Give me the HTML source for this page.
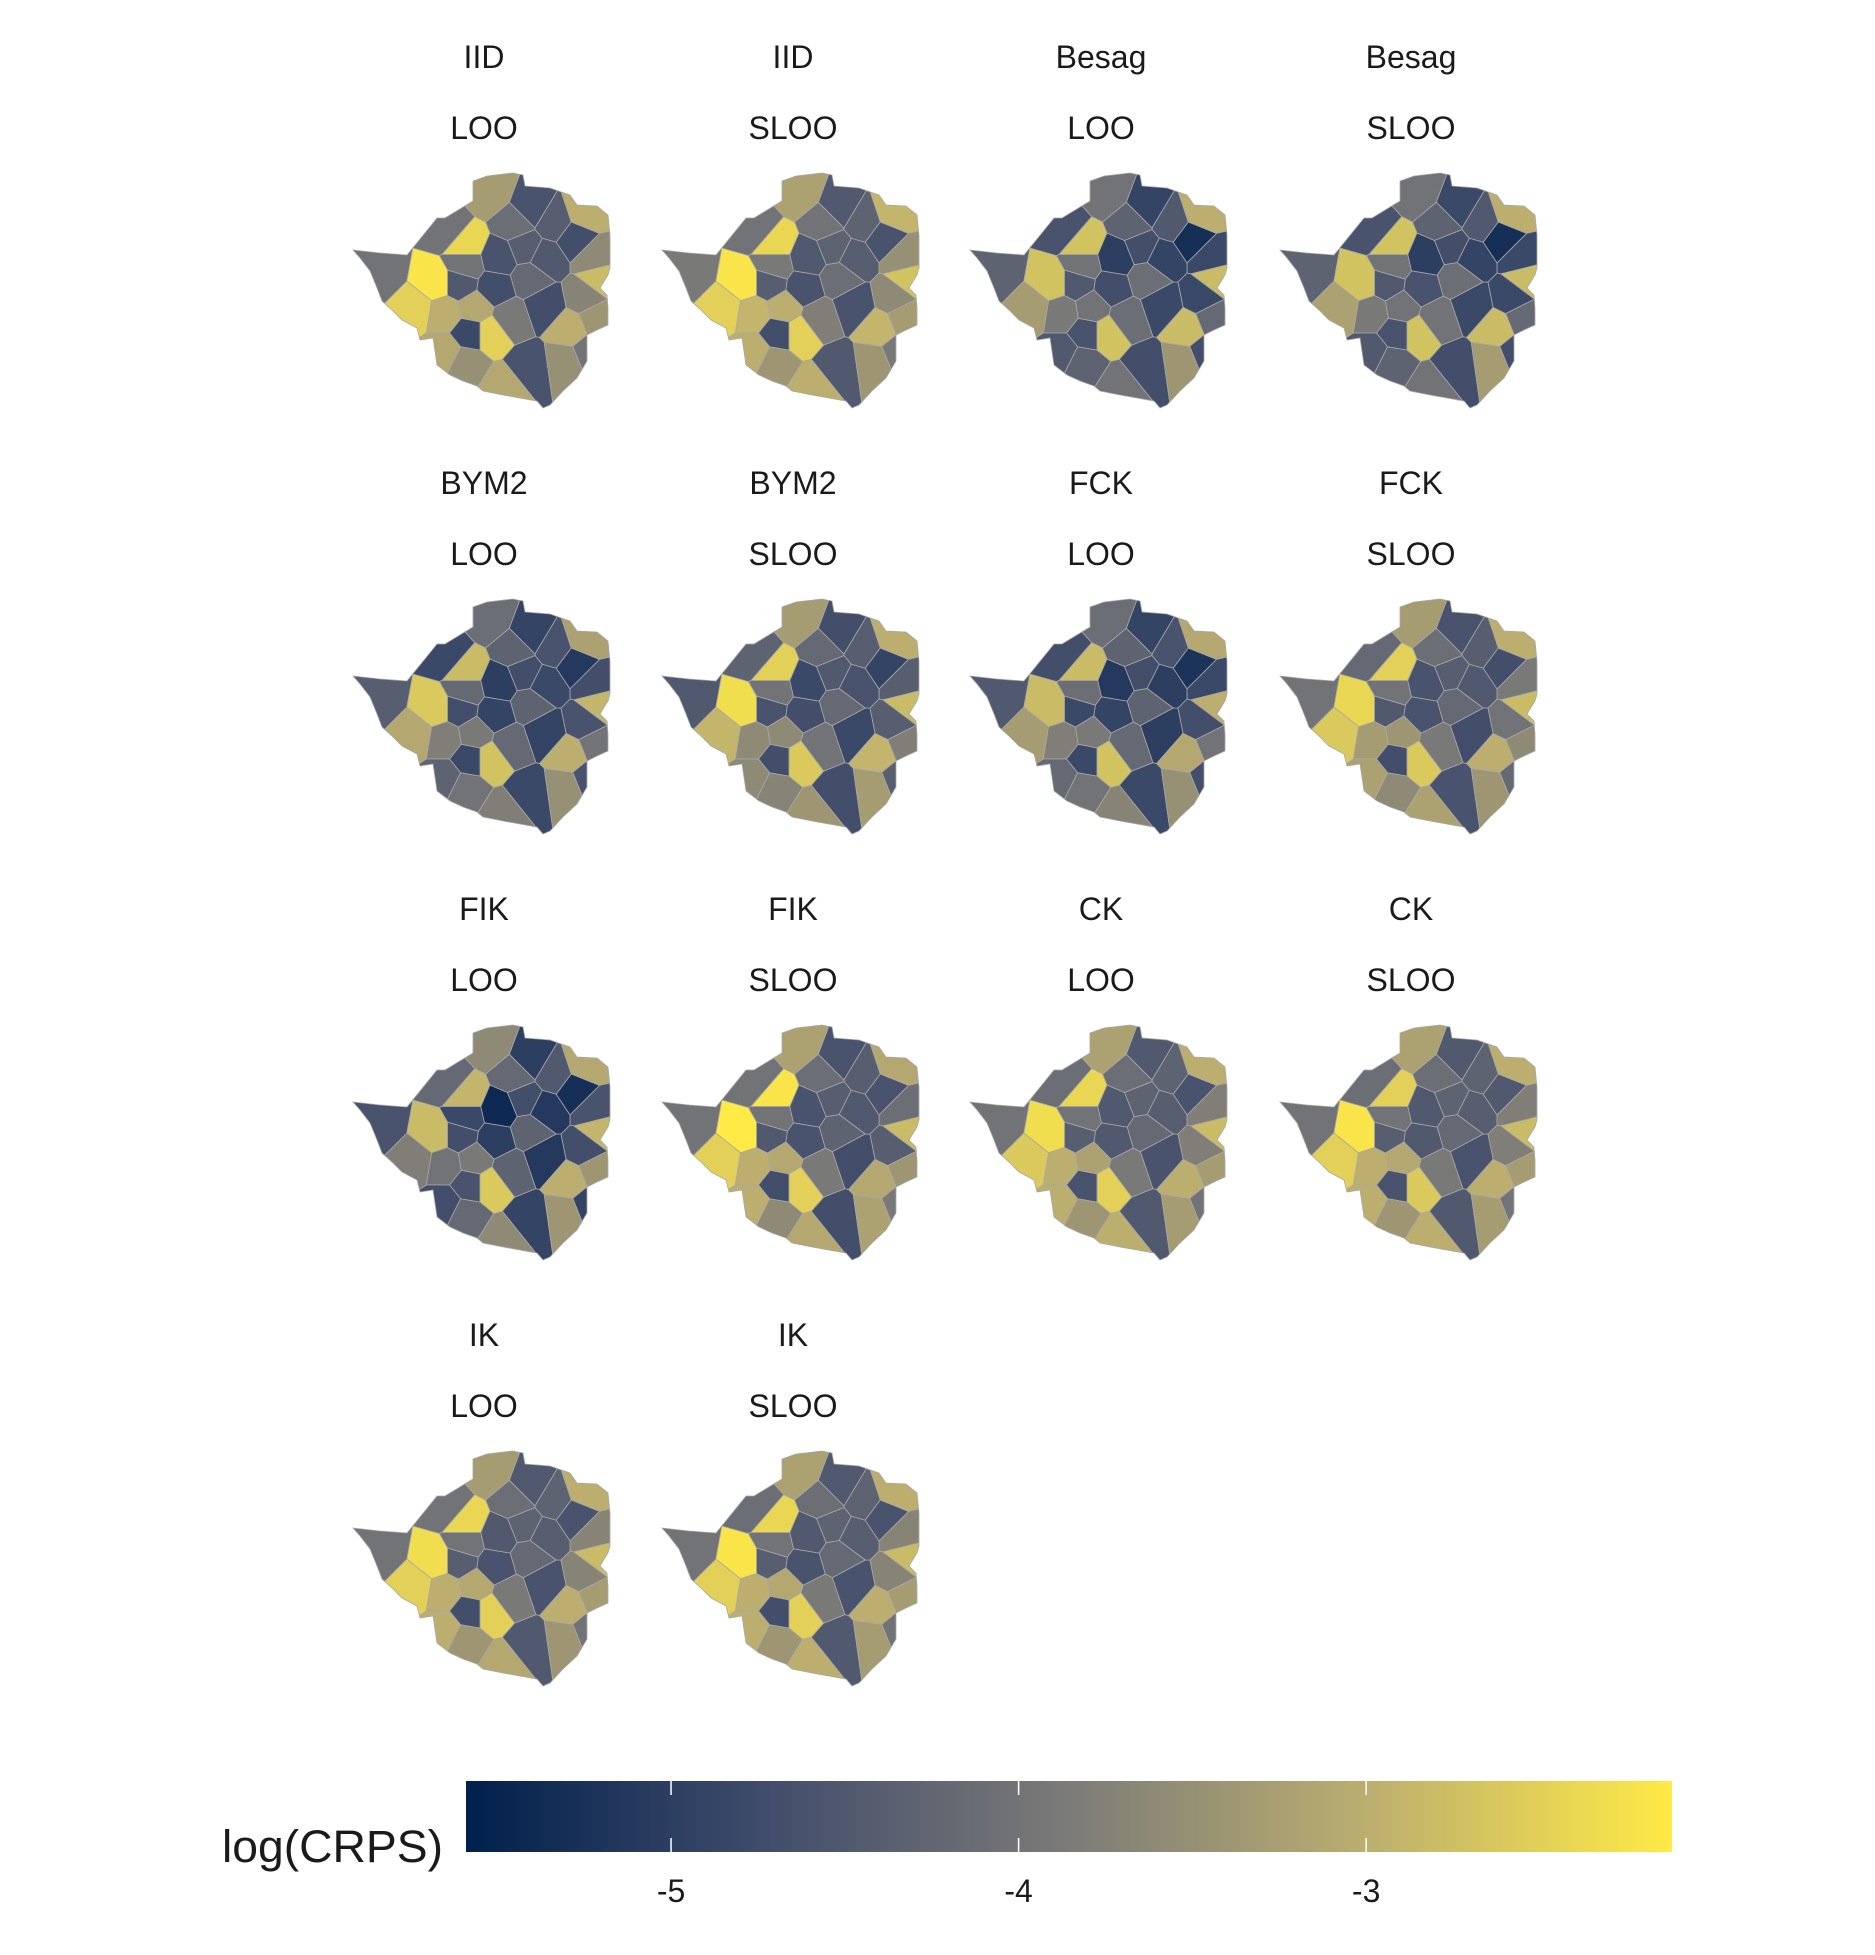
<!DOCTYPE html>
<html><head><meta charset="utf-8"><style>
html,body{margin:0;padding:0;background:#fff;}
svg text{font-family:"Liberation Sans",sans-serif;fill:#1a1a1a;}
</style></head><body>
<svg id="chart" width="1875" height="1950" viewBox="0 0 1875 1950" xmlns="http://www.w3.org/2000/svg">
<defs>
<linearGradient id="cividis" x1="0" x2="1" y1="0" y2="0">
<stop offset="0" stop-color="#00204D"/>
<stop offset="0.25" stop-color="#414D6B"/>
<stop offset="0.5" stop-color="#7C7B78"/>
<stop offset="0.75" stop-color="#BCAF6F"/>
<stop offset="1" stop-color="#FFEA46"/>
</linearGradient>
</defs>
<g id="panels"></g>
<g id="legend">
<text x="222" y="1862" font-size="45" textLength="221" lengthAdjust="spacingAndGlyphs">log(CRPS)</text>
<rect x="466" y="1781" width="1206" height="71" fill="url(#cividis)"/>
</g>
</svg>
<script>
const modelNames = ["IID","IID","Besag","Besag","BYM2","BYM2","FCK","FCK","FIK","FIK","CK","CK","IK","IK"];
const cvNames = ["LOO","SLOO","LOO","SLOO","LOO","SLOO","LOO","SLOO","LOO","SLOO","LOO","SLOO","LOO","SLOO"];
const legendTicks = [-5,-4,-3];
const legendMin = -5.59, legendMax = -2.12;
// district values per panel (35 districts)
const vIIDLOO   = [-4.0,-3.3,-2.4,-4.0,-4.0,-2.2,-2.5,-3.0,-3.1,-4.5,-2.5,-4.8,-3.1,-3.5,-3.1,-4.6,-3.5,-3.0,-4.7,-4.7,-4.6,-4.2,-4.4,-4.6,-4.4,-4.7,-3.0,-3.6,-2.8,-3.7,-3.4,-4.0,-4.1,-4.5,-3.9];
const vIIDSLOO  = [-3.9,-3.2,-2.4,-4.0,-3.9,-2.2,-2.5,-2.9,-3.0,-4.4,-2.5,-4.7,-3.0,-3.4,-3.0,-4.5,-3.4,-2.9,-4.6,-4.6,-4.5,-4.1,-4.3,-4.5,-4.3,-4.6,-2.9,-3.5,-2.7,-3.6,-3.3,-3.9,-4.0,-4.4,-3.8];
const vBesagLOO = [-4.3,-4.0,-2.7,-4.6,-4.0,-2.7,-3.3,-3.9,-4.0,-4.5,-2.7,-4.6,-4.5,-4.3,-4.0,-4.7,-3.4,-2.8,-4.8,-4.7,-5.0,-4.1,-4.7,-4.9,-4.5,-5.3,-3.0,-4.8,-2.8,-4.8,-4.2,-4.7,-4.3,-4.9,-4.1];
const vBesagSLOO= [-4.3,-4.0,-2.7,-4.6,-4.0,-2.7,-3.2,-3.9,-4.0,-4.5,-2.7,-4.6,-4.5,-4.3,-4.0,-4.7,-3.3,-2.8,-4.8,-4.6,-5.0,-4.1,-4.7,-4.8,-4.5,-5.3,-3.0,-4.8,-2.8,-4.8,-4.2,-4.7,-4.3,-4.9,-4.0];
const vBYM2LOO  = [-4.4,-4.1,-2.8,-4.8,-4.2,-2.6,-3.1,-3.8,-3.9,-4.7,-2.7,-4.8,-4.3,-4.0,-3.8,-4.8,-3.5,-3.0,-4.9,-4.9,-5.0,-4.3,-4.7,-4.9,-4.6,-5.1,-3.2,-4.7,-2.9,-4.6,-4.0,-4.6,-4.3,-4.8,-4.2];
const vBYM2SLOO = [-4.5,-3.3,-2.5,-4.3,-4.0,-2.3,-2.9,-3.6,-3.6,-4.6,-2.6,-4.7,-3.6,-3.7,-3.4,-4.7,-3.3,-2.9,-4.8,-4.7,-4.8,-4.2,-4.5,-4.7,-4.4,-4.9,-3.0,-4.4,-2.8,-4.4,-3.8,-4.4,-4.2,-4.6,-4.0];
const vFCKLOO   = [-4.5,-4.1,-2.8,-4.7,-4.1,-2.8,-3.3,-3.8,-3.9,-4.8,-2.7,-4.8,-4.2,-4.0,-3.7,-4.8,-3.5,-3.1,-5.0,-4.9,-5.1,-4.3,-4.7,-4.9,-4.6,-5.2,-3.1,-4.8,-3.0,-4.7,-4.0,-4.7,-4.3,-5.0,-4.2];
const vFCKSLOO  = [-4.0,-3.3,-2.5,-4.2,-4.0,-2.4,-2.6,-3.3,-3.4,-4.5,-2.6,-4.7,-3.2,-3.6,-3.2,-4.6,-3.4,-3.0,-4.7,-4.6,-4.6,-4.2,-4.4,-4.6,-4.4,-4.7,-3.0,-3.9,-2.8,-4.0,-3.6,-4.2,-4.1,-4.5,-3.9];
const vFIKLOO   = [-4.6,-3.6,-2.9,-4.2,-4.8,-2.8,-3.8,-4.0,-3.9,-4.7,-2.6,-4.6,-4.7,-4.2,-3.6,-4.9,-3.4,-3.0,-5.1,-5.0,-5.4,-4.3,-4.7,-5.0,-4.5,-5.3,-3.1,-4.6,-2.9,-4.7,-3.4,-4.9,-4.2,-5.1,-4.3];
const vFIKSLOO  = [-4.0,-3.2,-2.2,-4.0,-4.0,-2.1,-2.5,-3.0,-3.1,-4.5,-2.5,-4.7,-3.0,-3.6,-3.1,-4.7,-3.2,-3.1,-4.7,-4.6,-4.6,-4.3,-4.4,-4.6,-4.4,-4.6,-3.1,-4.1,-2.8,-4.4,-3.4,-3.9,-4.1,-4.5,-3.9];
const vCKLOO    = [-4.0,-3.2,-2.4,-4.1,-4.0,-2.3,-2.6,-3.0,-3.2,-4.4,-2.5,-4.6,-3.0,-3.4,-3.0,-4.5,-3.3,-3.0,-4.6,-4.5,-4.5,-4.2,-4.3,-4.5,-4.3,-4.6,-3.0,-3.8,-2.8,-3.8,-3.3,-4.0,-4.1,-4.4,-3.9];
const vCKSLOO   = [-4.0,-3.2,-2.5,-4.1,-4.0,-2.2,-2.5,-3.0,-3.1,-4.4,-2.6,-4.6,-3.0,-3.4,-3.0,-4.5,-3.3,-3.0,-4.6,-4.5,-4.5,-4.2,-4.3,-4.5,-4.3,-4.5,-3.0,-3.8,-2.8,-3.8,-3.3,-4.0,-4.1,-4.4,-3.9];
const vIKLOO    = [-4.0,-3.3,-2.4,-4.0,-4.0,-2.3,-2.5,-3.0,-3.1,-4.4,-2.5,-4.7,-3.0,-3.4,-3.1,-4.5,-3.4,-3.0,-4.6,-4.6,-4.5,-4.2,-4.3,-4.5,-4.3,-4.6,-3.0,-3.7,-2.8,-3.7,-3.3,-4.0,-4.1,-4.4,-3.9];
const vIKSLOO   = [-4.0,-3.2,-2.4,-4.1,-4.0,-2.2,-2.5,-3.0,-3.1,-4.4,-2.5,-4.7,-3.0,-3.4,-3.0,-4.5,-3.3,-3.0,-4.6,-4.6,-4.5,-4.2,-4.3,-4.5,-4.3,-4.6,-3.0,-3.7,-2.8,-3.7,-3.3,-4.0,-4.1,-4.4,-3.9];
const panelValues = [vIIDLOO,vIIDSLOO,vBesagLOO,vBesagSLOO,vBYM2LOO,vBYM2SLOO,vFCKLOO,vFCKSLOO,vFIKLOO,vFIKSLOO,vCKLOO,vCKSLOO,vIKLOO,vIKSLOO];

// geometry (panel-local)
const outline=[[23,102],[50,105],[77,107],[107,70],[115,70],[143,53],[143,33],[157,28],[183,25],[193,27],[195,38],[220,40],[240,47],[247,57],[267,58],[278,67],[280,87],[280,120],[278,127],[270,140],[277,147],[278,160],[278,177],[267,182],[257,187],[257,213],[247,230],[233,243],[220,257],[213,260],[207,253],[173,247],[153,243],[147,238],[133,233],[120,227],[107,217],[103,190],[90,192],[87,180],[72,172],[63,163],[52,153],[47,140],[40,123],[30,110]];
const seeds=[[50,125],[160,45],[135,95],[120,82],[135,118],[105,135],[85,160],[115,165],[145,160],[130,135],[160,185],[140,185],[115,205],[135,215],[175,240],[200,220],[235,215],[240,180],[215,158],[165,140],[170,110],[200,130],[195,100],[200,60],[225,75],[245,90],[255,65],[265,110],[270,130],[255,150],[265,170],[260,205],[185,75],[215,110],[180,170]];

const stops=[[0,[0x00,0x20,0x4D]],[0.25,[0x41,0x4D,0x6B]],[0.5,[0x7C,0x7B,0x78]],[0.75,[0xBC,0xAF,0x6F]],[1,[0xFF,0xEA,0x46]]];
function colorOf(v){
  let t=(v-legendMin)/(legendMax-legendMin); t=Math.max(0,Math.min(1,t));
  for(let i=0;i<stops.length-1;i++){
    const [a,ca]=stops[i],[b,cb]=stops[i+1];
    if(t<=b){const f=(t-a)/(b-a);return 'rgb('+ca.map((c,k)=>Math.round(c+(cb[k]-c)*f)).join(',')+')';}
  }
  return 'rgb(255,234,70)';
}
function clip(poly,p,q){
  const nx=q[0]-p[0],ny=q[1]-p[1],c=(q[0]*q[0]+q[1]*q[1]-p[0]*p[0]-p[1]*p[1])/2;
  const inside=pt=>pt[0]*nx+pt[1]*ny<=c;
  const out=[];
  for(let i=0;i<poly.length;i++){
    const A=poly[i],B=poly[(i+1)%poly.length];
    const ia=inside(A),ib=inside(B);
    if(ia)out.push(A);
    if(ia!==ib){const da=A[0]*nx+A[1]*ny-c,db=B[0]*nx+B[1]*ny-c,t=da/(da-db);out.push([A[0]+(B[0]-A[0])*t,A[1]+(B[1]-A[1])*t]);}
  }
  return out;
}
const cells=seeds.map((s,i)=>{let poly=outline.slice();seeds.forEach((o,j)=>{if(j!==i&&poly.length)poly=clip(poly,s,o);});return poly;});

const NS='http://www.w3.org/2000/svg';
const root=document.getElementById('panels');
const colX=[330,639,947,1257], rowStep=426;
panelValues.forEach((vals,pi)=>{
  const col=pi%4,row=Math.floor(pi/4);
  const ox=colX[col], oy=148+row*rowStep, cx=ox+154;
  const g=document.createElementNS(NS,'g');
  
  
  const t1=document.createElementNS(NS,'text');
  
  
  t1.setAttribute('x',cx);t1.setAttribute('y',oy-80);t1.setAttribute('font-size','32');t1.setAttribute('text-anchor','middle');
  t1.textContent=modelNames[pi];g.appendChild(t1);
  const t2=document.createElementNS(NS,'text');
  
  
  t2.setAttribute('x',cx);t2.setAttribute('y',oy-9);t2.setAttribute('font-size','32');t2.setAttribute('text-anchor','middle');
  t2.textContent=cvNames[pi];g.appendChild(t2);
  cells.forEach((poly,di)=>{
    if(poly.length<3)return;
    const p=document.createElementNS(NS,'polygon');
    
    
    p.setAttribute('points',poly.map(q=>(q[0]+ox).toFixed(1)+','+(q[1]+oy).toFixed(1)).join(' '));
    p.setAttribute('fill',colorOf(vals[di]));
    p.setAttribute('stroke','#a8a8a8');p.setAttribute('stroke-width','0.8');
    g.appendChild(p);
  });
  root.appendChild(g);
});
const leg=document.getElementById('legend');
const lx=v=>466+(v-legendMin)/(legendMax-legendMin)*1206;
legendTicks.forEach(v=>{
  [[1781,1795],[1838,1852]].forEach(([a,b])=>{
    const l=document.createElementNS(NS,'line');
    
    
    l.setAttribute('x1',lx(v));l.setAttribute('x2',lx(v));l.setAttribute('y1',a);l.setAttribute('y2',b);
    l.setAttribute('stroke','#fff');l.setAttribute('stroke-width','1.5');leg.appendChild(l);
  });
  const t=document.createElementNS(NS,'text');
  
  
  t.setAttribute('x',lx(v));t.setAttribute('y',1902);t.setAttribute('font-size','32');t.setAttribute('text-anchor','middle');
  t.textContent=String(v);leg.appendChild(t);
});
</script>
</body></html>
